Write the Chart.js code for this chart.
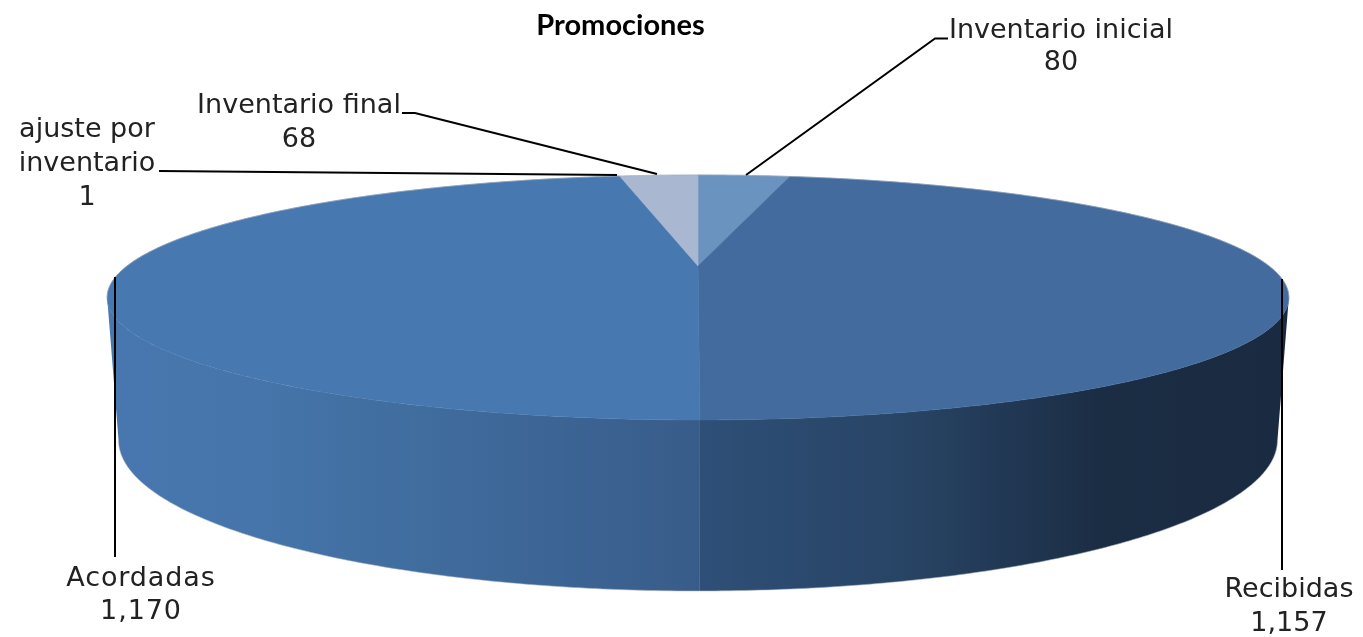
<!DOCTYPE html>
<html>
<head>
<meta charset="UTF-8">
<title>Promociones</title>
<script src="https://cdn.jsdelivr.net/npm/chart.js"></script>
<style>
    body { margin: 0; background: #fff; }
    canvas { display: block; }
</style>
</head>
<body>
<canvas id="myChart" width="1363" height="637"></canvas>
<script>
    const categories = ['Inventario inicial', 'Recibidas', 'Acordadas', 'ajuste por inventario', 'Inventario final'];
    const values = [80, 1157, 1170, 1, 68];
    const topColors = ['#6b93bf', '#436b9d', '#4878b0', '#4878b0', '#a9b7d1'];

    // side wall shading, left to right across each slice
    const wallStops = [
        [[0, '#1b2c42'], [1, '#1b2c42']],
        [[0, '#2e4f77'], [0.35, '#284465'], [0.68, '#1b2d44'], [1, '#1a2a40']],
        [[0, '#4777ae'], [0.25, '#4575aa'], [0.6, '#3f6a9b'], [1, '#385c8a']],
        [[0, '#385c8a'], [1, '#385c8a']],
        [[0, '#385c8a'], [1, '#385c8a']]
    ];

    // label placement: centre x, first line middle, line height, wrap width, extra tracking
    const labelSpots = [
        { x: 1061, y: 31, lh: 32, wrap: 400, track: 0 },
        { x: 1289, y: 590, lh: 34, wrap: 400, track: 0 },
        { x: 141, y: 579, lh: 33, wrap: 400, track: 0.9 },
        { x: 87, y: 130, lh: 34, wrap: 160, track: 0 },
        { x: 299, y: 106, lh: 34, wrap: 400, track: 0 }
    ];
    const leaders = [
        [[746, 175], [935, 38.5], [948, 38.5]],
        [[1282, 279], [1282, 570]],
        [[115, 277], [115, 557]],
        [[617, 175], [159, 171]],
        [[657, 174], [415, 113], [402, 113]]
    ];

    // perspective disc: top face and bottom face of the pie
    const K = 0.257;
    const topFace = { cx: 698, cy: 266, a: 114.4, b: 571 };
    const bottomFace = { cx: 698, cy: 401.2, a: 141, b: 560 };
    const silhouette = Math.asin(K);

    function project(face, angle) {
        const u = Math.cos(angle), v = Math.sin(angle);
        const w = 1 - K * v;
        return [face.cx + face.b * u / w, face.cy + face.a * v / w];
    }

    function rim(ctx, face, start, end, first) {
        const steps = Math.max(2, Math.ceil(Math.abs(end - start) / 0.01));
        for (let i = 0; i <= steps; i++) {
            const p = project(face, start + (end - start) * i / steps);
            if (i === 0 && first) ctx.moveTo(p[0], p[1]);
            else ctx.lineTo(p[0], p[1]);
        }
    }

    const pie3d = {
        id: 'pie3d',
        beforeDatasetsDraw(chart) {
            const ctx = chart.ctx;
            const arcs = chart.getDatasetMeta(0).data;
            const colors = chart.data.datasets[0].backgroundColor;

            ctx.save();
            arcs.forEach((arc, i) => {
                // only the part of a slice facing the viewer has a wall
                const start = Math.max(arc.startAngle, silhouette);
                const end = Math.min(arc.endAngle, Math.PI - silhouette);
                if (end <= start) return;
                const x0 = project(topFace, start)[0];
                const x1 = project(topFace, end)[0];
                const grad = ctx.createLinearGradient(Math.min(x0, x1), 0, Math.max(x0, x1), 0);
                wallStops[i].forEach(s => grad.addColorStop(s[0], s[1]));
                ctx.beginPath();
                rim(ctx, topFace, start, end, true);
                rim(ctx, bottomFace, end, start, false);
                ctx.closePath();
                ctx.fillStyle = grad;
                ctx.fill();
            });
            arcs.forEach((arc, i) => {
                ctx.beginPath();
                ctx.moveTo(topFace.cx, topFace.cy);
                rim(ctx, topFace, arc.startAngle, arc.endAngle, false);
                ctx.closePath();
                ctx.fillStyle = colors[i];
                ctx.fill();
                ctx.strokeStyle = colors[i];
                ctx.lineWidth = 0.6;
                ctx.stroke();
            });
            // soft grey edge along the outline
            ctx.strokeStyle = 'rgba(165,175,190,0.55)';
            ctx.lineWidth = 1;
            ctx.beginPath();
            rim(ctx, topFace, Math.PI - silhouette, 2 * Math.PI + silhouette, true);
            ctx.stroke();
            ctx.beginPath();
            rim(ctx, bottomFace, silhouette, Math.PI - silhouette, true);
            ctx.stroke();
            ctx.restore();
            return false;
        },
        afterDraw(chart) {
            const ctx = chart.ctx;
            ctx.save();
            ctx.strokeStyle = '#000';
            ctx.lineWidth = 2;
            leaders.forEach(pts => {
                ctx.beginPath();
                pts.forEach((p, j) => j ? ctx.lineTo(p[0], p[1]) : ctx.moveTo(p[0], p[1]));
                ctx.stroke();
            });
            ctx.font = '27px "DejaVu Sans"';
            ctx.fillStyle = '#222';
            ctx.textAlign = 'center';
            ctx.textBaseline = 'middle';
            categories.forEach((name, i) => {
                const spot = labelSpots[i];
                ctx.letterSpacing = spot.track + 'px';
                const lines = [];
                let line = '';
                name.split(' ').forEach(word => {
                    const t = line ? line + ' ' + word : word;
                    if (ctx.measureText(t).width > spot.wrap && line) { lines.push(line); line = word; }
                    else line = t;
                });
                lines.push(line);
                lines.push(values[i].toLocaleString('en-US'));
                lines.forEach((l, j) => ctx.fillText(l, spot.x, spot.y + j * spot.lh));
            });
            ctx.restore();
        }
    };

    new Chart(document.getElementById('myChart'), {
        type: 'pie',
        data: {
            labels: categories,
            datasets: [{ data: values, backgroundColor: topColors, borderWidth: 0 }]
        },
        options: {
            responsive: false,
            animation: false,
            layout: { padding: { right: 122 } },
            plugins: {
                legend: { display: false },
                tooltip: { enabled: false },
                title: {
                    display: true,
                    text: 'Promociones',
                    color: '#000',
                    font: { family: 'Lato', size: 29, weight: 'bold' },
                    padding: { top: 8, bottom: 0 }
                }
            }
        },
        plugins: [pie3d]
    });
</script>
</body>
</html>
